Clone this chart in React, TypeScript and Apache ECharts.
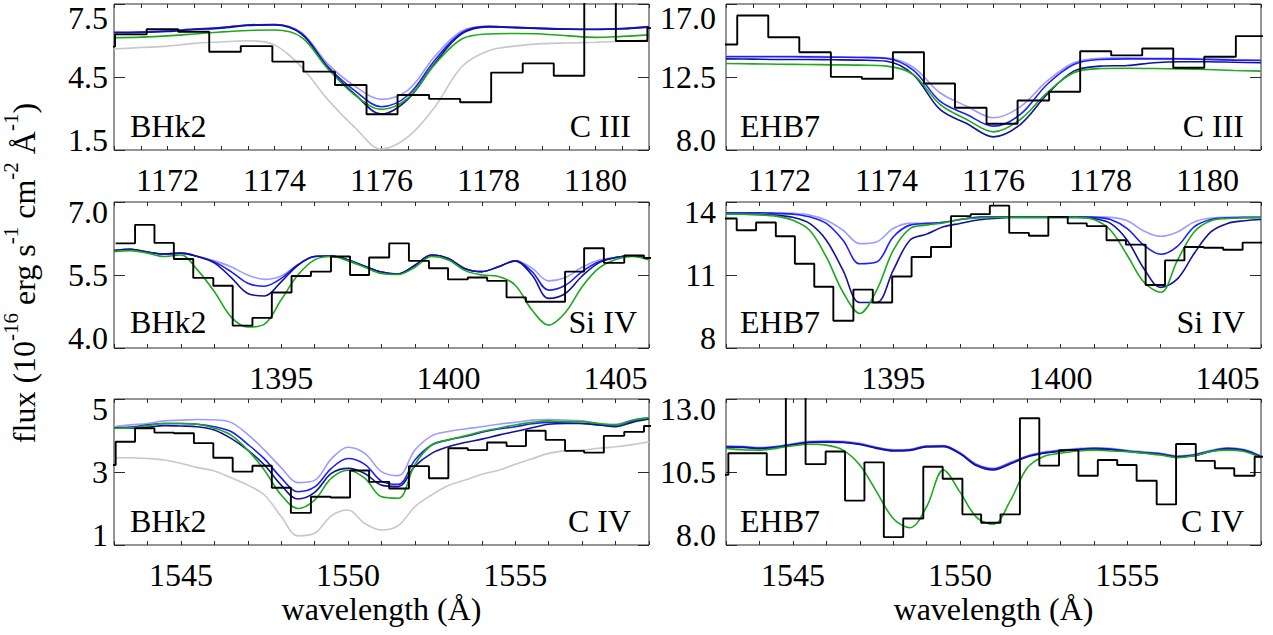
import React, { useEffect, useRef } from "react";
import * as echarts from "echarts";

const FONT = '"Liberation Serif", "Times New Roman", Times, serif';
const COLORS = {
  gray: "#c8c8c8",
  light: "#9c9cff",
  blue: "#1e1eff",
  navy: "#12129c",
  green: "#1aaa1a",
  hist: "#000000",
  frame: "#2a2a2a",
};

// ---------- model wavelength grids ----------
const cIIIWave = [1171, 1171.5, 1172, 1172.5, 1173, 1173.5, 1174, 1174.5, 1175, 1175.5, 1176, 1176.5, 1177, 1177.5, 1178, 1178.5, 1179, 1179.5, 1180, 1180.5, 1181];
const siIVWave = [1390, 1390.5, 1391, 1391.5, 1392, 1392.5, 1393, 1393.5, 1394, 1394.5, 1395, 1395.5, 1396, 1396.5, 1397, 1397.5, 1398, 1398.5, 1399, 1399.5, 1400, 1400.5, 1401, 1401.5, 1402, 1402.5, 1403, 1403.5, 1404, 1404.5, 1405, 1405.5, 1406];
const cIVWave = [1543, 1543.5, 1544, 1544.5, 1545, 1545.5, 1546, 1546.5, 1547, 1547.5, 1548, 1548.5, 1549, 1549.5, 1550, 1550.5, 1551, 1551.5, 1552, 1552.5, 1553, 1553.5, 1554, 1554.5, 1555, 1555.5, 1556, 1556.5, 1557, 1557.5, 1558, 1558.5, 1559];

// ---------- BHk2, C III ----------
const bhk2CIIIEdges = [1170.43, 1171.02, 1171.61, 1172.2, 1172.78, 1173.37, 1173.96, 1174.54, 1175.13, 1175.72, 1176.3, 1176.89, 1177.47, 1178.05, 1178.64, 1179.22, 1179.79, 1180.38, 1180.97, 1181.56];
const bhk2CIIIFlux = [5.75, 6.25, 6.46, 6.36, 5.54, 5.77, 5.13, 4.72, 4.17, 2.97, 3.76, 3.6, 3.46, 4.68, 5.06, 4.55, 9.0, 5.98, 6.51];
const bhk2CIIILight = [6.34, 6.35, 6.39, 6.47, 6.53, 6.64, 6.66, 6.33, 5.03, 4.13, 3.58, 3.97, 5.36, 6.39, 6.58, 6.54, 6.5, 6.47, 6.46, 6.49, 6.57];
const bhk2CIIIBlue = [6.34, 6.35, 6.39, 6.47, 6.53, 6.64, 6.66, 6.3, 4.92, 3.94, 3.28, 3.76, 5.2, 6.32, 6.58, 6.54, 6.5, 6.47, 6.46, 6.49, 6.57];
const bhk2CIIINavy = [6.32, 6.33, 6.37, 6.45, 6.51, 6.62, 6.64, 6.27, 4.87, 3.8, 2.98, 3.6, 5.08, 6.27, 6.56, 6.53, 6.49, 6.46, 6.45, 6.48, 6.55];
const bhk2CIIIGreen = [6.12, 6.14, 6.19, 6.27, 6.35, 6.41, 6.43, 6.14, 4.83, 3.76, 3.17, 3.64, 5.03, 6.06, 6.27, 6.29, 6.27, 6.19, 6.13, 6.17, 6.23];
const bhk2CIIIGray = [5.65, 5.71, 5.77, 5.88, 5.94, 5.99, 5.82, 4.92, 3.56, 2.43, 1.54, 2.05, 3.28, 4.92, 5.58, 5.77, 5.87, 5.9, 5.93, 5.97, 6.02];

// ---------- EHB7, C III ----------
const ehb7CIIIEdges = [1170.63, 1171.21, 1171.79, 1172.37, 1172.96, 1173.54, 1174.12, 1174.7, 1175.28, 1175.87, 1176.45, 1177.04, 1177.62, 1178.2, 1178.78, 1179.36, 1179.94, 1180.53, 1181.11];
const ehb7CIIIFlux = [14.5, 16.29, 14.95, 14.03, 12.51, 12.39, 14.03, 12.1, 10.6, 9.62, 11.05, 11.59, 14.09, 13.83, 14.26, 13.07, 13.75, 15.02];
const ehb7CIIILight = [13.78, 13.78, 13.78, 13.76, 13.75, 13.72, 13.68, 13.1, 11.53, 10.7, 9.99, 10.66, 12.24, 13.38, 13.66, 13.68, 13.66, 13.64, 13.62, 13.58, 13.54];
const ehb7CIIIBlue = [13.75, 13.75, 13.75, 13.74, 13.72, 13.7, 13.64, 12.92, 11.01, 10.19, 9.47, 10.19, 12.04, 13.27, 13.58, 13.62, 13.62, 13.62, 13.58, 13.54, 13.52];
const ehb7CIIINavy = [13.62, 13.6, 13.58, 13.58, 13.56, 13.54, 13.47, 12.65, 10.5, 9.63, 8.81, 9.57, 11.42, 12.86, 13.17, 13.21, 13.38, 13.44, 13.44, 13.41, 13.38];
const ehb7CIIIGreen = [13.33, 13.31, 13.29, 13.27, 13.25, 13.23, 13.17, 12.65, 10.81, 9.88, 9.12, 9.88, 11.53, 12.76, 13.02, 13.04, 13.02, 13.0, 12.96, 12.9, 12.86];

// ---------- BHk2, Si IV ----------
const bhk2SiIVEdges = [1390.05, 1390.63, 1391.21, 1391.79, 1392.37, 1392.97, 1393.55, 1394.14, 1394.72, 1395.31, 1395.89, 1396.49, 1397.06, 1397.63, 1398.23, 1398.82, 1399.42, 1399.99, 1400.58, 1401.16, 1401.74, 1402.32, 1402.91, 1403.49, 1404.06, 1404.65, 1405.26, 1405.85, 1406.44];
const bhk2SiIVFlux = [6.15, 6.53, 6.16, 5.83, 5.44, 5.28, 4.46, 4.62, 5.14, 5.48, 5.57, 5.88, 5.5, 5.86, 6.15, 5.79, 5.64, 5.41, 5.45, 5.38, 5.04, 4.95, 4.95, 5.57, 6.05, 5.75, 5.9, 5.85];
const bhk2SiIVLight = [6.0, 6.03, 5.97, 5.93, 5.95, 5.88, 5.79, 5.67, 5.5, 5.41, 5.48, 5.71, 5.88, 5.89, 5.81, 5.68, 5.56, 5.52, 5.7, 5.91, 5.84, 5.63, 5.57, 5.67, 5.79, 5.64, 5.38, 5.45, 5.66, 5.81, 5.86, 5.89, 5.84];
const bhk2SiIVBlue = [6.0, 6.03, 5.97, 5.93, 5.95, 5.88, 5.77, 5.57, 5.33, 5.27, 5.43, 5.71, 5.88, 5.89, 5.81, 5.68, 5.56, 5.52, 5.7, 5.91, 5.84, 5.63, 5.57, 5.67, 5.79, 5.57, 5.19, 5.29, 5.57, 5.77, 5.86, 5.89, 5.84];
const bhk2SiIVNavy = [6.0, 6.03, 5.97, 5.93, 5.95, 5.88, 5.75, 5.45, 5.12, 5.07, 5.36, 5.7, 5.88, 5.89, 5.81, 5.68, 5.56, 5.52, 5.7, 5.91, 5.84, 5.63, 5.57, 5.67, 5.79, 5.5, 5.02, 5.12, 5.48, 5.75, 5.86, 5.89, 5.84];
const bhk2SiIVGreen = [5.98, 6.0, 5.95, 5.88, 5.91, 5.6, 5.16, 4.64, 4.43, 4.49, 4.99, 5.5, 5.81, 5.88, 5.79, 5.66, 5.53, 5.51, 5.66, 5.88, 5.81, 5.59, 5.5, 5.47, 5.29, 4.78, 4.47, 4.73, 5.26, 5.64, 5.82, 5.88, 5.81];

// ---------- EHB7, Si IV ----------
const ehb7SiIVEdges = [1389.74, 1390.32, 1390.9, 1391.49, 1392.06, 1392.64, 1393.21, 1393.81, 1394.39, 1394.97, 1395.55, 1396.13, 1396.73, 1397.32, 1397.89, 1398.47, 1399.06, 1399.64, 1400.22, 1400.79, 1401.38, 1401.96, 1402.55, 1403.13, 1403.71, 1404.29, 1404.87, 1405.45, 1406.03];
const ehb7SiIVFlux = [13.32, 12.84, 13.16, 12.59, 11.46, 10.52, 9.12, 10.4, 9.87, 10.94, 11.74, 12.15, 13.42, 13.5, 13.85, 12.73, 12.61, 13.39, 13.12, 13.01, 12.43, 12.25, 10.59, 11.6, 12.15, 12.12, 12.04, 12.33];
const ehb7SiIVLight = [13.56, 13.56, 13.56, 13.56, 13.54, 13.46, 13.25, 12.84, 12.29, 12.36, 12.91, 13.12, 13.12, 13.17, 13.28, 13.37, 13.39, 13.39, 13.39, 13.39, 13.39, 13.39, 13.39, 13.37, 13.23, 12.81, 12.59, 12.77, 13.18, 13.34, 13.37, 13.37, 13.37];
const ehb7SiIVBlue = [13.56, 13.56, 13.56, 13.53, 13.5, 13.39, 13.12, 12.43, 11.46, 11.53, 12.56, 13.05, 13.12, 13.17, 13.28, 13.37, 13.39, 13.39, 13.39, 13.39, 13.39, 13.39, 13.37, 13.28, 12.91, 12.22, 11.85, 12.18, 12.98, 13.28, 13.35, 13.37, 13.37];
const ehb7SiIVNavy = [13.5, 13.5, 13.49, 13.46, 13.37, 13.12, 12.43, 11.19, 9.87, 9.87, 11.19, 12.43, 12.68, 12.98, 13.12, 13.25, 13.32, 13.37, 13.37, 13.37, 13.37, 13.37, 13.32, 13.12, 12.43, 11.26, 10.49, 10.84, 11.88, 12.77, 13.12, 13.23, 13.28];
const ehb7SiIVGreen = [13.5, 13.5, 13.47, 13.42, 13.25, 12.84, 11.74, 10.29, 9.42, 10.36, 12.01, 12.91, 13.05, 13.14, 13.28, 13.34, 13.37, 13.37, 13.37, 13.37, 13.37, 13.37, 13.28, 12.84, 11.81, 10.7, 10.29, 11.6, 12.77, 13.23, 13.32, 13.35, 13.37];

// ---------- BHk2, C IV ----------
const bhk2CIVEdges = [1542.46, 1543.05, 1543.63, 1544.21, 1544.79, 1545.39, 1545.97, 1546.55, 1547.14, 1547.72, 1548.29, 1548.89, 1549.48, 1550.06, 1550.63, 1551.23, 1551.82, 1552.42, 1553.0, 1553.58, 1554.16, 1554.74, 1555.32, 1555.91, 1556.49, 1557.06, 1557.65, 1558.26, 1558.85, 1559.44];
const bhk2CIVFlux = [3.19, 3.83, 4.2, 4.08, 4.06, 3.79, 3.39, 3.01, 3.17, 2.57, 1.88, 2.32, 2.3, 3.04, 2.73, 2.55, 3.16, 2.83, 3.65, 3.6, 3.81, 3.71, 4.13, 3.88, 3.58, 3.53, 3.99, 4.1, 4.26];
const bhk2CIVLight = [4.24, 4.29, 4.33, 4.4, 4.42, 4.44, 4.43, 4.36, 4.03, 3.6, 3.12, 2.71, 2.77, 3.36, 3.68, 3.51, 3.01, 2.9, 3.6, 3.99, 4.11, 4.18, 4.24, 4.31, 4.36, 4.42, 4.44, 4.42, 4.4, 4.31, 4.31, 4.42, 4.49];
const bhk2CIVBlue = [4.21, 4.23, 4.29, 4.33, 4.33, 4.31, 4.24, 4.11, 3.76, 3.36, 2.84, 2.46, 2.59, 3.1, 3.37, 3.21, 2.75, 2.66, 3.33, 3.74, 3.88, 3.97, 4.09, 4.18, 4.24, 4.32, 4.36, 4.35, 4.33, 4.29, 4.27, 4.4, 4.47];
const bhk2CIVNavy = [4.21, 4.2, 4.23, 4.27, 4.26, 4.24, 4.15, 3.92, 3.6, 3.19, 2.64, 2.26, 2.44, 2.96, 3.1, 2.96, 2.64, 2.6, 3.16, 3.51, 3.69, 3.81, 3.9, 4.01, 4.11, 4.21, 4.31, 4.33, 4.33, 4.29, 4.24, 4.36, 4.45];
const bhk2CIVGreen = [4.2, 4.21, 4.27, 4.33, 4.33, 4.31, 4.2, 4.01, 3.6, 3.05, 2.37, 2.0, 2.23, 2.83, 3.05, 2.83, 2.32, 2.28, 3.21, 3.74, 3.88, 3.99, 4.11, 4.2, 4.29, 4.36, 4.4, 4.38, 4.38, 4.33, 4.29, 4.42, 4.49];
const bhk2CIVGray = [3.39, 3.39, 3.37, 3.33, 3.24, 3.12, 3.03, 2.84, 2.64, 2.37, 1.78, 1.25, 1.32, 1.8, 1.96, 1.59, 1.41, 1.53, 2.05, 2.37, 2.63, 2.78, 2.94, 3.05, 3.21, 3.36, 3.51, 3.58, 3.6, 3.65, 3.69, 3.75, 3.83];

// ---------- EHB7, C IV ----------
const ehb7CIVEdges = [1542.49, 1543.07, 1543.64, 1544.22, 1544.79, 1545.38, 1545.98, 1546.56, 1547.14, 1547.72, 1548.3, 1548.9, 1549.48, 1550.07, 1550.63, 1551.21, 1551.79, 1552.37, 1552.96, 1553.54, 1554.12, 1554.7, 1555.28, 1555.88, 1556.46, 1557.05, 1557.62, 1558.2, 1558.81, 1559.4];
const ehb7CIVFlux = [10.4, 11.14, 11.14, 10.4, 14.0, 10.77, 11.2, 9.52, 10.83, 8.27, 8.91, 10.68, 10.27, 9.05, 8.76, 9.05, 12.34, 10.72, 11.25, 10.37, 10.91, 10.74, 10.2, 9.39, 11.46, 10.88, 10.63, 10.37, 11.02];
const ehb7CIVLight = [11.39, 11.38, 11.34, 11.38, 11.47, 11.55, 11.56, 11.55, 11.48, 11.35, 11.26, 11.28, 11.4, 11.41, 11.16, 10.77, 10.63, 10.83, 11.05, 11.18, 11.25, 11.3, 11.33, 11.31, 11.24, 11.19, 11.14, 11.05, 11.1, 11.24, 11.33, 11.27, 11.05];
const ehb7CIVBlue = [11.37, 11.36, 11.32, 11.36, 11.45, 11.53, 11.54, 11.53, 11.46, 11.33, 11.24, 11.26, 11.38, 11.39, 11.14, 10.74, 10.6, 10.8, 11.03, 11.16, 11.23, 11.28, 11.31, 11.29, 11.22, 11.17, 11.12, 11.03, 11.08, 11.22, 11.31, 11.25, 11.03];
const ehb7CIVNavy = [11.35, 11.34, 11.3, 11.34, 11.43, 11.51, 11.52, 11.51, 11.44, 11.31, 11.22, 11.24, 11.36, 11.37, 11.12, 10.71, 10.57, 10.77, 11.01, 11.14, 11.21, 11.26, 11.29, 11.27, 11.2, 11.15, 11.1, 11.01, 11.06, 11.2, 11.29, 11.23, 11.01];
const ehb7CIVGreen = [11.31, 11.26, 11.25, 11.31, 11.4, 11.45, 11.42, 11.25, 10.74, 9.83, 8.91, 8.59, 9.31, 10.57, 9.81, 8.94, 8.71, 9.51, 10.63, 11.03, 11.14, 11.22, 11.25, 11.22, 11.2, 11.14, 11.08, 10.99, 11.06, 11.2, 11.25, 11.2, 10.99];

// ---------- tick label decimals [row][col] ----------
const yTickDecimals = [[1, 1], [1, 0], [0, 1]];

type Model = { values: number[]; color: string };
type Panel = {
  col: number; row: number;
  xMin: number; xMax: number; xTick: number; xLabelEvery: number;
  yMin: number; yMax: number;
  wave: number[]; models: Model[];
  edges: number[]; flux: number[];
  star: string; ion: string; ionRight: number;
};

const GRID_W = 535;
const GRID_H = 146;
const COL_LEFT = [114, 726];
const ROW_TOP = [4, 202, 399];
const STAR_LEFT = [130, 740];
const LABEL_BASE = [137, 333, 531.5];

const panels: Panel[] = [
  { col: 0, row: 0, xMin: 1171, xMax: 1181, xTick: 0.5, xLabelEvery: 2, yMin: 1.5, yMax: 7.5, wave: cIIIWave,
    models: [ { values: bhk2CIIIGray, color: COLORS.gray }, { values: bhk2CIIILight, color: COLORS.light }, { values: bhk2CIIIBlue, color: COLORS.blue }, { values: bhk2CIIINavy, color: COLORS.navy }, { values: bhk2CIIIGreen, color: COLORS.green } ],
    edges: bhk2CIIIEdges, flux: bhk2CIIIFlux, star: "BHk2", ion: "C III", ionRight: 631 },
  { col: 1, row: 0, xMin: 1171, xMax: 1181, xTick: 0.5, xLabelEvery: 2, yMin: 8, yMax: 17, wave: cIIIWave,
    models: [ { values: ehb7CIIILight, color: COLORS.light }, { values: ehb7CIIIBlue, color: COLORS.blue }, { values: ehb7CIIINavy, color: COLORS.navy }, { values: ehb7CIIIGreen, color: COLORS.green } ],
    edges: ehb7CIIIEdges, flux: ehb7CIIIFlux, star: "EHB7", ion: "C III", ionRight: 1244 },
  { col: 0, row: 1, xMin: 1390, xMax: 1406, xTick: 1, xLabelEvery: 5, yMin: 4, yMax: 7, wave: siIVWave,
    models: [ { values: bhk2SiIVLight, color: COLORS.light }, { values: bhk2SiIVBlue, color: COLORS.blue }, { values: bhk2SiIVNavy, color: COLORS.navy }, { values: bhk2SiIVGreen, color: COLORS.green } ],
    edges: bhk2SiIVEdges, flux: bhk2SiIVFlux, star: "BHk2", ion: "Si IV", ionRight: 637 },
  { col: 1, row: 1, xMin: 1390, xMax: 1406, xTick: 1, xLabelEvery: 5, yMin: 8, yMax: 14, wave: siIVWave,
    models: [ { values: ehb7SiIVLight, color: COLORS.light }, { values: ehb7SiIVBlue, color: COLORS.blue }, { values: ehb7SiIVNavy, color: COLORS.navy }, { values: ehb7SiIVGreen, color: COLORS.green } ],
    edges: ehb7SiIVEdges, flux: ehb7SiIVFlux, star: "EHB7", ion: "Si IV", ionRight: 1245 },
  { col: 0, row: 2, xMin: 1543, xMax: 1559, xTick: 1, xLabelEvery: 5, yMin: 1, yMax: 5, wave: cIVWave,
    models: [ { values: bhk2CIVGray, color: COLORS.gray }, { values: bhk2CIVLight, color: COLORS.light }, { values: bhk2CIVBlue, color: COLORS.blue }, { values: bhk2CIVNavy, color: COLORS.navy }, { values: bhk2CIVGreen, color: COLORS.green } ],
    edges: bhk2CIVEdges, flux: bhk2CIVFlux, star: "BHk2", ion: "C IV", ionRight: 631 },
  { col: 1, row: 2, xMin: 1543, xMax: 1559, xTick: 1, xLabelEvery: 5, yMin: 8, yMax: 13, wave: cIVWave,
    models: [ { values: ehb7CIVLight, color: COLORS.light }, { values: ehb7CIVBlue, color: COLORS.blue }, { values: ehb7CIVNavy, color: COLORS.navy }, { values: ehb7CIVGreen, color: COLORS.green } ],
    edges: ehb7CIVEdges, flux: ehb7CIVFlux, star: "EHB7", ion: "C IV", ionRight: 1244 },
];

function buildOption() {
  const grid: any[] = [];
  const xAxis: any[] = [];
  const yAxis: any[] = [];
  const series: any[] = [];
  const graphic: any[] = [];

  panels.forEach((p, i) => {
    const left = COL_LEFT[p.col];
    const top = ROW_TOP[p.row];
    grid.push({ left, top, width: GRID_W, height: GRID_H, show: true, borderColor: COLORS.frame, borderWidth: 1, backgroundColor: "transparent" });

    const xCommon = {
      type: "value", gridIndex: i, min: p.xMin, max: p.xMax, interval: p.xTick,
      axisLine: { show: false }, splitLine: { show: false },
      axisTick: { show: true, inside: true, length: 4, lineStyle: { color: COLORS.frame, width: 1 } },
    };
    xAxis.push({
      ...xCommon, position: "bottom",
      axisLabel: {
        show: true, margin: 14, fontSize: 32, fontFamily: FONT, color: "#000",
        formatter: (v: number) => {
          const q = v / p.xLabelEvery;
          return Math.abs(q - Math.round(q)) < 1e-6 && v > p.xMin + 1e-6 && v < p.xMax - 1e-6 ? String(Math.round(v)) : "";
        },
      },
      name: p.row === 2 ? "wavelength (Å)" : "",
      nameLocation: "middle", nameGap: 48,
      nameTextStyle: { fontSize: 32, fontFamily: FONT, color: "#000" },
    });
    xAxis.push({ ...xCommon, position: "top", axisLabel: { show: false } });

    const dec = yTickDecimals[p.row][p.col];
    const yCommon = {
      type: "value", gridIndex: i, min: p.yMin, max: p.yMax, interval: (p.yMax - p.yMin) / 2,
      axisLine: { show: false }, splitLine: { show: false },
      axisTick: { show: true, inside: true, length: 11, lineStyle: { color: COLORS.frame, width: 1 } },
    };
    const topRow = p.row === 0;
    yAxis.push({
      ...yCommon, position: "left",
      axisLabel: {
        show: true, margin: p.col === 0 ? 6 : 10, fontSize: 32, fontFamily: FONT, color: "#000", lineHeight: 20,
        verticalAlignMinLabel: "bottom", verticalAlignMaxLabel: "top",
        formatter: (v: number) => {
          const t = v.toFixed(dec);
          return topRow && Math.abs(v - p.yMax) < 1e-6 ? "{t|" + t + "}" : t;
        },
        rich: { t: { fontSize: 32, fontFamily: FONT, color: "#000", lineHeight: 28 } },
      },
    });
    yAxis.push({ ...yCommon, position: "right", axisLabel: { show: false } });

    p.models.forEach((m) => {
      series.push({
        type: "line", xAxisIndex: 2 * i, yAxisIndex: 2 * i, smooth: 0.35,
        showSymbol: false, symbol: "none", silent: true,
        lineStyle: { color: m.color, width: 1.6 },
        data: p.wave.map((w, k) => [w, m.values[k]]),
      });
    });
    series.push({
      type: "line", xAxisIndex: 2 * i, yAxisIndex: 2 * i, step: "end",
      showSymbol: false, symbol: "none", silent: true,
      lineStyle: { color: COLORS.hist, width: 1.9 },
      data: p.edges.map((e, k) => [e, p.flux[Math.min(k, p.flux.length - 1)]]),
    });

    const base = LABEL_BASE[p.row] - 10.8;
    graphic.push({
      type: "text", x: STAR_LEFT[p.col], y: base, silent: true,
      style: { text: p.star, fontSize: 32, fontFamily: FONT, fill: "#000", align: "left", textAlign: "left", verticalAlign: "middle", textVerticalAlign: "middle" },
    });
    graphic.push({
      type: "text", x: p.ionRight, y: base, silent: true,
      style: { text: p.ion, fontSize: 32, fontFamily: FONT, fill: "#000", align: "right", textAlign: "right", verticalAlign: "middle", textVerticalAlign: "middle" },
    });
  });

  graphic.push({
    type: "text", x: 24, y: 273, rotation: Math.PI / 2, silent: true,
    style: {
      text: "{m|flux (10}{s|-16}{m| erg s}{s|-1}{m| cm}{s|-2}{m| Å}{s|-1}{m|)}",
      align: "center", textAlign: "center", verticalAlign: "middle", textVerticalAlign: "middle",
      fill: "#000",
      rich: {
        m: { fontSize: 32, fontFamily: FONT, fill: "#000", verticalAlign: "middle" },
        s: { fontSize: 21, fontFamily: FONT, fill: "#000", verticalAlign: "top", padding: [0, 0, 26, 0] },
      },
    },
  });

  return { animation: false, backgroundColor: "#ffffff", grid, xAxis, yAxis, series, graphic };
}

export default function App() {
  const ref = useRef<HTMLDivElement>(null);
  useEffect(() => {
    if (!ref.current) return;
    const chart = echarts.init(ref.current, undefined, { renderer: "svg" });
    chart.setOption(buildOption() as any);
    return () => chart.dispose();
  }, []);
  return (
    <div
      ref={ref}
      style={{ position: "fixed", left: 0, top: 0, width: 1273, height: 635, background: "#fff" }}
    />
  );
}
